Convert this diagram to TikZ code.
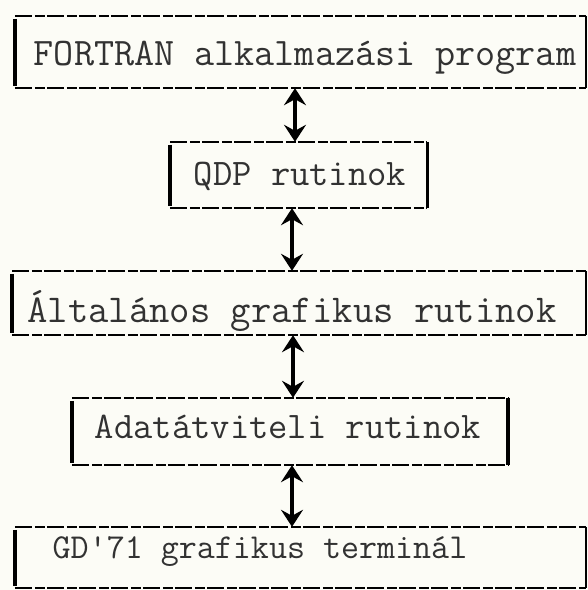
\documentclass[tikz,border=0pt]{standalone}
\usepackage{fontspec}
\usetikzlibrary{arrows.meta,calc}
\definecolor{paper}{RGB}{252,252,246}
\definecolor{ink}{RGB}{50,50,50}
\begin{document}
\begin{tikzpicture}[x=1pt,y=-1pt,
  boxarea/.style={rectangle,draw=none,inner sep=0pt,minimum width=#1},
  label/.style={anchor=base,inner sep=0pt,text=ink,font=\fontsize{#1}{40}\selectfont\ttfamily},
  dashline/.style={line width=2pt,dash pattern=on 17pt off 3pt on 10pt off 2pt},
  thickside/.style={line width=4pt},
  thinside/.style={line width=1.6pt},
  arr/.style={line width=3.5pt,{Stealth[length=17pt,width=22pt,inset=6pt]}-{Stealth[length=17pt,width=22pt,inset=6pt]}}]
\fill[paper] (0,0) rectangle (588,590);
\useasboundingbox (0,0) rectangle (588,590);
% boxes
\node[boxarea=571pt,minimum height=72pt] (b1) at (300.5,52) {};
\node[boxarea=257pt,minimum height=66pt] (b2) at (298.5,175) {};
\node[boxarea=574pt,minimum height=64pt] (b3) at (299,303) {};
\node[boxarea=436pt,minimum height=67pt] (b4) at (290,431.5) {};
\node[boxarea=571pt,minimum height=61pt] (b5) at (300.5,557.5) {};
% texts
\node[label=39] (t1) at (305,65) {FORTRAN alkalmazási program};
\node[label=37.5] (t2) at (300,185) {QDP rutinok};
\node[label=39.5] (t3) at (292,322) {Általános grafikus rutinok};
\node[label=37.5] (t4) at (288,438) {Adatátviteli rutinok};
\node[label=35] (t5) at (260,558) {GD'71 grafikus terminál};
% borders
\foreach \b in {b1,b2,b3,b4,b5}{
  \draw[dashline] (\b.north west) -- (\b.north east);
  \draw[dashline] (\b.south west) -- (\b.south east);
  \draw[thickside] ([yshift=-3pt]\b.north west) -- ([yshift=2pt]\b.south west);
}
\draw[thinside] (b1.north east) -- (b1.south east);
\draw[line width=3pt] (b2.north east) -- (b2.south east);
\draw[thinside] (b3.north east) -- (b3.south east);
\draw[thickside] (b4.north east) -- (b4.south east);
\draw[line width=2.5pt] (b5.north east) -- (b5.south east);
% connectors
\coordinate (c1) at ([xshift=-3.5pt]b2.north);
\coordinate (c2) at ([xshift=-6.5pt]b2.south);
\coordinate (c3) at ([xshift=3pt]b4.north);
\coordinate (c4) at ([xshift=2pt]b4.south);
\draw[arr] (b1.south -| c1) -- (c1);
\draw[arr] (c2) -- (b3.north -| c2);
\draw[arr] (b3.south -| c3) -- (c3);
\draw[arr] (c4) -- (b5.north -| c4);
\end{tikzpicture}
\end{document}
